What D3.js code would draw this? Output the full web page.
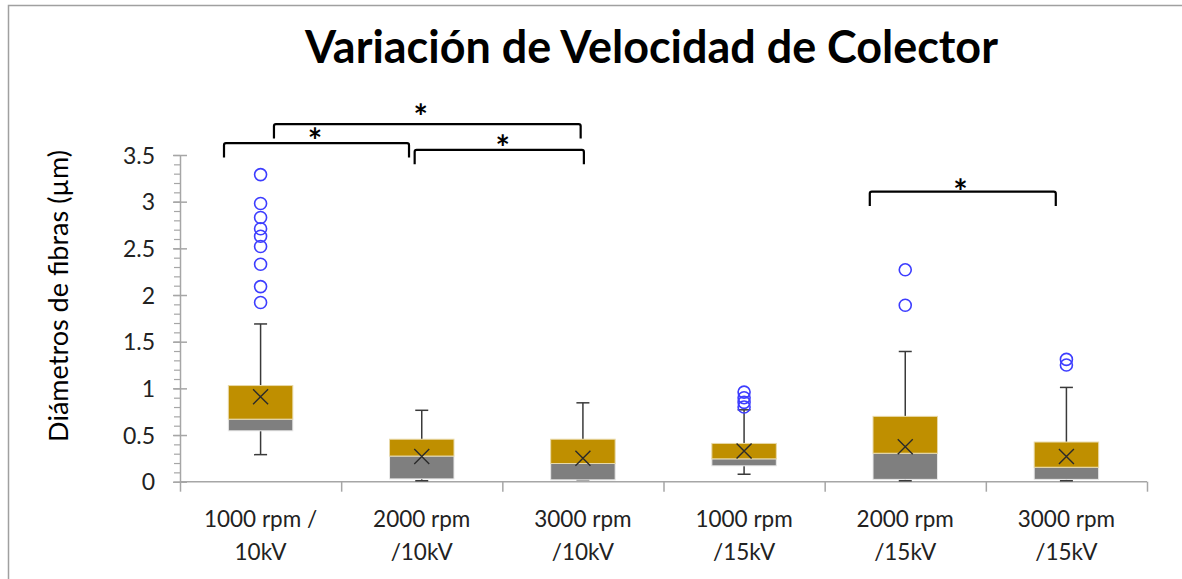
<!DOCTYPE html>
<html>
<head>
<meta charset="utf-8">
<script src="https://cdn.jsdelivr.net/npm/d3@7/dist/d3.min.js"></script>
<style>
  html, body { margin: 0; padding: 0; background: #fff; }
  svg { display: block; font-family: Lato, "Open Sans", sans-serif; }
</style>
</head>
<body>
<svg id="chart" width="1182" height="579"></svg>
<script>
// ---- data ----
const title = "Variación de Velocidad de Colector";
const yLabel = "Diámetros de fibras (µm)";
const categories = ["1000 rpm /\n10kV", "2000 rpm\n/10kV", "3000 rpm\n/10kV", "1000 rpm\n/15kV", "2000 rpm\n/15kV", "3000 rpm\n/15kV"];
const whiskerLow  = [0.29, 0.01, 0.02, 0.08, 0.01, 0.01];
const q1          = [0.545, 0.03, 0.02, 0.17, 0.025, 0.025];
const median      = [0.67, 0.275, 0.195, 0.245, 0.305, 0.155];
const q3          = [1.03, 0.455, 0.455, 0.41, 0.70, 0.425];
const whiskerHigh = [1.69, 0.765, 0.845, 0.77, 1.395, 1.01];
const means       = [0.91, 0.27, 0.25, 0.33, 0.375, 0.27];
const outliers    = [[3.29, 2.98, 2.83, 2.71, 2.63, 2.52, 2.33, 2.09, 1.92], [], [], [0.96, 0.90, 0.85, 0.80], [2.27, 1.89], [1.31, 1.25]];
const yTicks      = [0, 0.5, 1, 1.5, 2, 2.5, 3, 3.5];
const yTickLabels = ["0", "0.5", "1", "1.5", "2", "2.5", "3", "3.5"];
// significance brackets: positions in category units (0..6), level in value units
const bracketStart = [0.273, 0.583, 1.456, 4.280];
const bracketEnd   = [1.421, 2.486, 2.506, 5.434];
const bracketLevel = [3.627, 3.831, 3.555, 3.108];
const starX        = [0.837, 1.493, 2.002, 4.843];
const starY        = [3.723, 3.984, 3.655, 3.180];
const starText     = ["*", "*", "*", "*"];

(function () {
const svg = d3.select("#chart");
const pL = 180, pR = 1147, pT = 155, pB = 481.7;

const x = d3.scaleBand().domain(categories).range([pL, pR]).padding(0);
const xPos = d3.scaleLinear().domain([0, categories.length]).range([pL, pR]);
const y = d3.scaleLinear().domain([0, 3.5]).range([pB, pT]);

// chart border
svg.append("rect").attr("x", 8.5).attr("y", 5.5).attr("width", 1190).attr("height", 600)
  .attr("fill", "none").attr("stroke", "#a0a0a0").attr("stroke-width", 1.5);

// title
const t = svg.append("text").text(title)
  .attr("x", 651.5).attr("y", 63).attr("text-anchor", "middle")
  .attr("font-weight", 700).attr("font-size", 42).attr("fill", "#000");
{
  const w = t.node().getComputedTextLength();
  t.attr("font-size", 42 * 693 / w);
}

// y label
const yl = svg.append("text").text(yLabel)
  .attr("transform", "translate(68,296) rotate(-90)")
  .attr("text-anchor", "middle").attr("font-size", 23).attr("fill", "#000");
{
  const w = yl.node().getComputedTextLength();
  yl.attr("font-size", 23 * 292 / w);
}

const axisColor = "#a6a6a6";

// y axis: minor ticks
const minor = d3.range(0, 35.5).map(i => i / 10);
const yAxisMinor = d3.axisLeft(y).tickValues(minor).tickSize(6).tickFormat("");
const gMinor = svg.append("g").attr("transform", `translate(${pL},0)`).call(yAxisMinor);
gMinor.select(".domain").remove();
gMinor.selectAll("line").attr("stroke", axisColor).attr("stroke-width", 1.2);

// y axis: major ticks crossing axis
const yAxis = d3.axisLeft(y).tickValues(yTicks).tickSize(0).tickPadding(25)
  .tickFormat((d, i) => yTickLabels[i]);
const gY = svg.append("g").attr("transform", `translate(${pL},0)`).call(yAxis);
gY.select(".domain").attr("stroke", axisColor).attr("stroke-width", 1.5);
gY.selectAll(".tick text").attr("font-size", 23).attr("fill", "#222")
  .attr("font-family", "Lato, sans-serif").attr("x", -25).attr("dy", "0.35em");
gY.selectAll(".tick").append("line").attr("x1", -7).attr("x2", 7)
  .attr("stroke", axisColor).attr("stroke-width", 1.5);

// x axis
const xAxis = d3.axisBottom(xPos).tickValues(d3.range(0, categories.length + 1))
  .tickSize(10).tickFormat("");
const gX = svg.append("g").attr("transform", `translate(0,${pB})`).call(xAxis);
gX.select(".domain").attr("stroke", axisColor).attr("stroke-width", 1.5)
  .attr("d", `M${pL},0H${pR}`);
gX.selectAll("line").attr("stroke", axisColor).attr("stroke-width", 1.5);

// x labels
categories.forEach(c => {
  const lines = c.split("\n");
  const tx = svg.append("text").attr("text-anchor", "middle").attr("font-size", 22.5).attr("fill", "#222");
  lines.forEach((ln, i) => {
    tx.append("tspan").attr("x", x(c) + x.bandwidth() / 2).attr("y", 527 + i * 33).text(ln);
  });
});

// boxes
const bw = x.bandwidth() * 0.4;
const g = svg.append("g");
categories.forEach((c, i) => {
  const cx = x(c) + x.bandwidth() / 2;
  const wc = "#3a3a3a";
  g.append("line").attr("x1", cx).attr("x2", cx).attr("y1", y(q3[i])).attr("y2", y(whiskerHigh[i]))
    .attr("stroke", wc).attr("stroke-width", 1.5);
  g.append("line").attr("x1", cx).attr("x2", cx).attr("y1", y(q1[i])).attr("y2", y(whiskerLow[i]))
    .attr("stroke", wc).attr("stroke-width", 1.5);
  g.append("line").attr("x1", cx - 6.5).attr("x2", cx + 6.5).attr("y1", y(whiskerHigh[i])).attr("y2", y(whiskerHigh[i]))
    .attr("stroke", wc).attr("stroke-width", 1.5);
  g.append("line").attr("x1", cx - 6.5).attr("x2", cx + 6.5).attr("y1", y(whiskerLow[i])).attr("y2", y(whiskerLow[i]))
    .attr("stroke", wc).attr("stroke-width", 1.5);
  g.append("rect").attr("x", cx - bw / 2).attr("width", bw)
    .attr("y", y(median[i])).attr("height", y(q1[i]) - y(median[i]))
    .attr("fill", "#7f7f7f").attr("stroke", "#e8e8e8").attr("stroke-width", 1);
  g.append("rect").attr("x", cx - bw / 2).attr("width", bw)
    .attr("y", y(q3[i])).attr("height", y(median[i]) - y(q3[i]))
    .attr("fill", "#bf8f00").attr("stroke", "#e8d9a8").attr("stroke-width", 1);
  const my = y(means[i]), s = 7.5;
  g.append("path").attr("d", `M${cx - s},${my - s}L${cx + s},${my + s}M${cx - s},${my + s}L${cx + s},${my - s}`)
    .attr("stroke", "#2a2a2a").attr("stroke-width", 1.4).attr("fill", "none");
  outliers[i].forEach(v => {
    g.append("circle").attr("cx", cx).attr("cy", y(v)).attr("r", 6)
      .attr("fill", "none").attr("stroke", "#3d3dff").attr("stroke-width", 1.6);
  });
});

// significance brackets
const drop = 0.155;
bracketStart.forEach((s, i) => {
  const x0 = xPos(s), x1 = xPos(bracketEnd[i]);
  const yt = y(bracketLevel[i]), yb = y(bracketLevel[i] - drop);
  svg.append("path").attr("d", `M${x0},${yb}V${yt + 2}Q${x0},${yt} ${x0 + 2},${yt}H${x1 - 2}Q${x1},${yt} ${x1},${yt + 2}V${yb}`)
    .attr("fill", "none").attr("stroke", "#000").attr("stroke-width", 2.2);
  svg.append("text").text(starText[i]).attr("x", xPos(starX[i])).attr("y", y(starY[i]) + 19)
    .attr("text-anchor", "middle").attr("font-size", 34).attr("font-weight", 700).attr("fill", "#000");
});
})();
</script>
</body>
</html>
